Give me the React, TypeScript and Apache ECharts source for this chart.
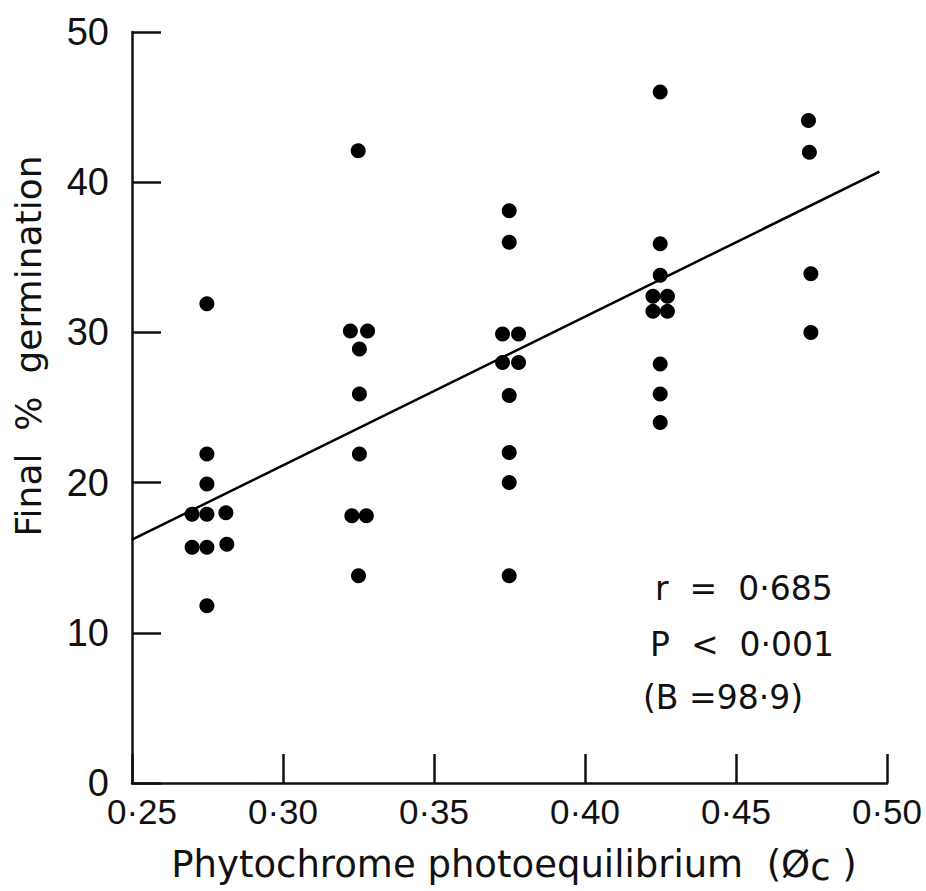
import React, { useEffect, useRef } from "react";
import * as echarts from "echarts";

// Phytochrome photoequilibrium (x) and final % germination (y)
const phi: number[] = [
  0.2748, 0.2748, 0.2748, 0.2699, 0.2748, 0.2811, 0.2699, 0.2748, 0.2814, 0.2748,
  0.3249, 0.3223, 0.328, 0.3253, 0.3253, 0.3253, 0.3228, 0.3276, 0.325,
  0.3749, 0.3749, 0.3727, 0.378, 0.3727, 0.378, 0.3749, 0.3749, 0.3749, 0.3749,
  0.4249, 0.4249, 0.4249, 0.4225, 0.4273, 0.4225, 0.4273, 0.4249, 0.4249, 0.4249,
  0.474, 0.4743, 0.4748, 0.4748,
];
const germination: number[] = [
  31.9, 21.9, 19.9, 17.9, 17.9, 18.0, 15.7, 15.7, 15.9, 11.8,
  42.1, 30.1, 30.1, 28.9, 25.9, 21.9, 17.8, 17.8, 13.8,
  38.1, 36.0, 29.9, 29.9, 28.0, 28.0, 25.8, 22.0, 20.0, 13.8,
  46.0, 35.9, 33.8, 32.4, 32.4, 31.4, 31.4, 27.9, 25.9, 24.0,
  44.1, 42.0, 33.9, 30.0,
];
// Regression line end points
const fitX: number[] = [0.25, 0.4975];
const fitY: number[] = [16.2, 40.7];

const statLines: string[] = ["r  =  0·685", "P  <  0·001", "(B =98·9)"];

export default function App() {
  const ref = useRef<HTMLDivElement>(null);
  useEffect(() => {
    if (!ref.current) return;
    const chart = echarts.init(ref.current, null, { renderer: "svg" });
    const ink = "#111";
    const option: any = {
      animation: false,
      backgroundColor: "#fff",
      grid: { left: 132, right: 39, top: 32, bottom: 108, outerBoundsMode: "none" },
      xAxis: {
        type: "value",
        min: 0.25,
        max: 0.5,
        interval: 0.05,
        splitLine: { show: false },
        axisLine: { show: true, lineStyle: { color: ink, width: 2.5 } },
        axisTick: { show: true, inside: true, length: 29, lineStyle: { color: ink, width: 2.5 } },
        axisLabel: {
          color: ink,
          fontFamily: "Liberation Sans",
          fontSize: 35,
          margin: 11,
          formatter: (v: number) => {
            const s = v.toFixed(2).replace(".", "·");
            return v < 0.26 ? "{m|" + s + "}" : s;
          },
          rich: {
            m: { fontFamily: "Liberation Sans", fontSize: 35, color: ink, padding: [0, 0, 0, 20] },
          },
        },
      },
      yAxis: {
        type: "value",
        min: 0,
        max: 50,
        interval: 10,
        splitLine: { show: false },
        axisLine: { show: true, lineStyle: { color: ink, width: 2.5 } },
        axisTick: { show: true, inside: true, length: 29, lineStyle: { color: ink, width: 2.5 } },
        axisLabel: {
          color: ink,
          fontFamily: "Liberation Sans",
          fontSize: 38,
          margin: 23,
        },
      },
      series: [
        {
          type: "scatter",
          data: phi.map((x, i) => [x, germination[i]]),
          symbol: "circle",
          symbolSize: 15,
          itemStyle: { color: "#000", opacity: 1 },
          z: 3,
        },
        {
          type: "line",
          data: fitX.map((x, i) => [x, fitY[i]]),
          showSymbol: false,
          symbol: "none",
          lineStyle: { color: "#000", width: 2.5 },
          z: 2,
        },
      ],
      graphic: [
        {
          type: "text",
          x: 28,
          y: 346,
          rotation: Math.PI / 2,
          style: {
            text: "Final  %  germination",
            fill: ink,
            font: "36px 'DejaVu Sans'",
            align: "center",
            verticalAlign: "middle",
          },
        },
        {
          type: "text",
          x: 514,
          y: 864,
          style: {
            text: "{a|Phytochrome photoequilibrium  (Ø}{s|c}{a| )}",
            align: "center",
            verticalAlign: "middle",
            rich: {
              a: { fontFamily: "DejaVu Sans", fontSize: 37, lineHeight: 44, fill: ink, color: ink },
              s: { fontFamily: "DejaVu Sans", fontSize: 37, lineHeight: 28, verticalAlign: "bottom", fill: ink, color: ink },
            },
          },
        },
        {
          type: "text",
          x: 655,
          y: 588,
          style: { text: statLines[0], fill: ink, font: "33px 'DejaVu Sans'", align: "left", verticalAlign: "middle" },
        },
        {
          type: "text",
          x: 650,
          y: 644,
          style: { text: statLines[1], fill: ink, font: "33px 'DejaVu Sans'", align: "left", verticalAlign: "middle" },
        },
        {
          type: "text",
          x: 643,
          y: 697,
          style: { text: statLines[2], fill: ink, font: "33px 'DejaVu Sans'", align: "left", verticalAlign: "middle" },
        },
      ],
    };
    chart.setOption(option);
    return () => chart.dispose();
  }, []);
  return (
    <div
      ref={ref}
      style={{ position: "fixed", left: 0, top: 0, width: 926, height: 891, background: "#fff" }}
    />
  );
}
